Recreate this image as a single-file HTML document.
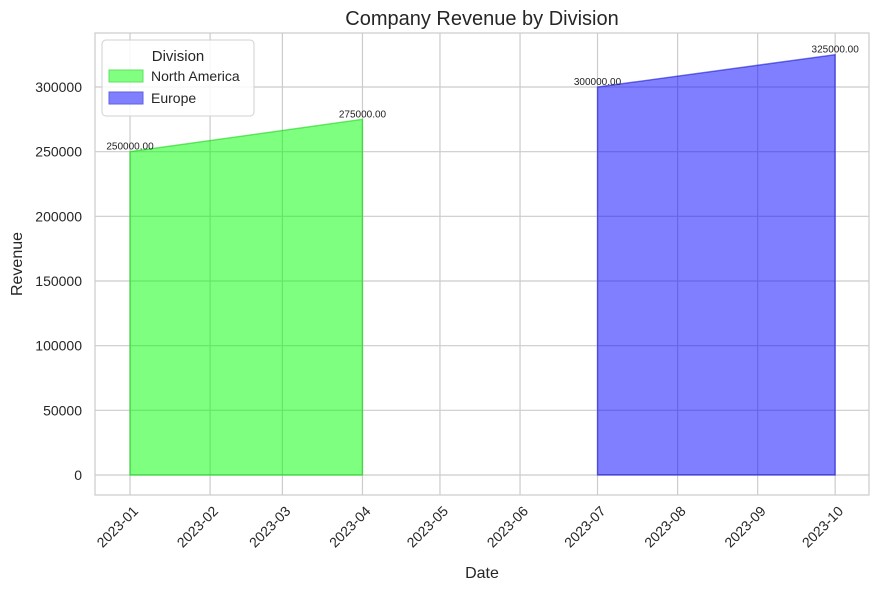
<!DOCTYPE html>
<html><head><meta charset="utf-8"><style>
html,body{margin:0;padding:0;background:#fff;}
svg{display:block;font-family:"Liberation Sans","DejaVu Sans",sans-serif;}
</style></head><body>
<svg id="chart" width="879" height="589" viewBox="0 0 879 589">
<rect x="0" y="0" width="879" height="589" fill="#fff"/>
<g id="grid"></g>
<g id="areas"></g>
<rect x="95" y="33" width="774" height="462" fill="none" stroke="#cccccc" stroke-width="1.2"/>
<g id="axes"></g>
<text x="482" y="25" text-anchor="middle" font-size="20" fill="#262626">Company Revenue by Division</text>
<text x="482" y="578" text-anchor="middle" font-size="16" fill="#262626">Date</text>
<text transform="translate(22,264) rotate(-90)" text-anchor="middle" font-size="16" fill="#262626">Revenue</text>
<g>
<rect x="102" y="40" width="152" height="76" rx="4" fill="#fff" fill-opacity="0.85" stroke="#d0d0d0"/>
<text x="178" y="61" text-anchor="middle" font-size="15" fill="#262626">Division</text>
<g>
<rect x="109" y="70" width="34" height="12" fill="#80ff80" stroke="#60e060"/>
<text x="151" y="81" font-size="14" fill="#262626">North America</text></g>
<g>
<rect x="109" y="92" width="34" height="12" fill="#8080ff" stroke="#6060e0"/>
<text x="151" y="103" font-size="14" fill="#262626">Europe</text></g>
</g>
</svg>
<script>
const xTickLabels = ["2023-01","2023-02","2023-03","2023-04","2023-05","2023-06","2023-07","2023-08","2023-09","2023-10"];
const yTicks = [0,50000,100000,150000,200000,250000,300000];
const naDates = ["2023-01-01","2023-04-01"];
const naValues = [250000,275000];
const euDates = ["2023-07-01","2023-10-01"];
const euValues = [300000,325000];

const NS="http://www.w3.org/2000/svg";
const t0=Date.UTC(2023,0,1);
function days(s){const p=s.split("-").map(Number);return (Date.UTC(p[0],p[1]-1,p[2]||1)-t0)/86400000;}
function xs(s){return 130+days(s)*2.583;}
function ys(v){return 475-v*(388/300000);}
function mk(tag,attrs,parent){const e=document.createElementNS(NS,tag);for(const k in attrs)e.setAttribute(k,attrs[k]);parent.appendChild(e);return e;}
const grid=document.getElementById("grid"),axes=document.getElementById("axes"),areas=document.getElementById("areas");
yTicks.forEach(v=>{
  const l=mk("line",{x1:95,x2:869,y1:ys(v),y2:ys(v),stroke:"#cccccc","stroke-width":1.2},grid);
  
  
  const t=mk("text",{x:82,y:ys(v)+5,"text-anchor":"end","font-size":14,fill:"#262626"},axes);
  t.textContent=String(v);
  
  
});
xTickLabels.forEach(s=>{
  const x=xs(s);
  const l=mk("line",{x1:x,x2:x,y1:33,y2:495,stroke:"#cccccc","stroke-width":1.2},grid);
  
  
  const t=mk("text",{transform:`translate(${x+9},${512}) rotate(-45)`,"text-anchor":"end","font-size":14,fill:"#262626"},axes);
  t.textContent=s;
  
  
});
function area(dates,vals,fill,stroke,name){
  let d=`M${xs(dates[0])},${ys(0)}`;
  dates.forEach((s,i)=>{d+=` L${xs(s)},${ys(vals[i])}`;});
  d+=` L${xs(dates[dates.length-1])},${ys(0)} Z`;
  const p=mk("path",{d:d,fill:fill,"fill-opacity":0.5,stroke:stroke,"stroke-opacity":0.5,"stroke-width":1.4},areas);
  
  
  dates.forEach((s,i)=>{
    const t=mk("text",{x:xs(s),y:ys(vals[i])-2,"text-anchor":"middle","font-size":10,fill:"#222"},areas);
    t.textContent=vals[i].toFixed(2);
    
    
  });
}
area(naDates,naValues,"#00ff00","#00cc00","area-north-america");
area(euDates,euValues,"#0000ff","#0000cc","area-europe");
</script>
</body></html>
